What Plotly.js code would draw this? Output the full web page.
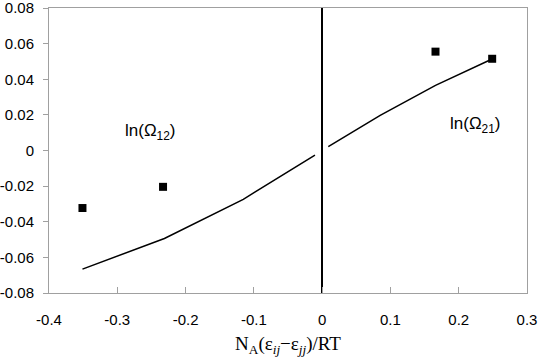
<!DOCTYPE html>
<html>
<head>
<meta charset="utf-8">
<script src="https://cdn.plot.ly/plotly-3.0.1.min.js"></script>
<style>html,body{margin:0;padding:0;background:#fff;}#chart{width:539px;height:361px;}</style>
</head>
<body>
<div id="chart"></div>
<script>
// Measured points (squares)
const pointsX = [-0.351, -0.233, 0.166, 0.249];
const pointsY = [-0.0323, -0.0204, 0.0555, 0.0515];
// Model curve, left branch ln(Omega12)
const leftX = [-0.351, -0.231, -0.1155, -0.0105];
const leftY = [-0.0666, -0.0494, -0.0274, -0.0026];
// Model curve, right branch ln(Omega21)
const rightX = [0.009, 0.085, 0.166, 0.2497];
const rightY = [0.0022, 0.0197, 0.0366, 0.0515];
// Labels
const labelText = ["ln(Ω<sub>12</sub>)", "ln(Ω<sub>21</sub>)"];
const labelX = [-0.251, 0.224];
const labelY = [0.0104, 0.0142];
const xTicks = [-0.4, -0.3, -0.2, -0.1, 0, 0.1, 0.2, 0.3];
const xTickText = ["-0.4", "-0.3", "-0.2", "-0.1", "0", "0.1", "0.2", "0.3"];
const yTicks = [-0.08, -0.06, -0.04, -0.02, 0, 0.02, 0.04, 0.06, 0.08];
const yTickText = ["-0.08", "-0.06", "-0.04", "-0.02", "0", "0.02", "0.04", "0.06", "0.08"];

const traces = [
  {x: leftX, y: leftY, mode: 'lines', line: {color: '#000', width: 1.5}, hoverinfo: 'skip'},
  {x: rightX, y: rightY, mode: 'lines', line: {color: '#000', width: 1.5}, hoverinfo: 'skip'},
  {x: pointsX, y: pointsY, mode: 'markers', marker: {symbol: 'square', size: 8, color: '#000'}, hoverinfo: 'skip'}
];

const axisFont = {family: 'Liberation Sans, Arial, sans-serif', size: 15, color: '#000'};

const layout = {
  width: 539, height: 361,
  margin: {l: 49, r: 12, t: 8, b: 68},
  paper_bgcolor: '#fff', plot_bgcolor: '#fff',
  showlegend: false,
  xaxis: {
    range: [-0.4, 0.3], tickvals: xTicks, ticktext: xTickText,
    showgrid: false, zeroline: true, zerolinecolor: '#000', zerolinewidth: 1.5,
    showline: true, linecolor: '#a0a0a0', linewidth: 1, mirror: true,
    ticks: 'inside', ticklen: 6, tickcolor: '#a0a0a0', tickwidth: 1,
    tickfont: axisFont, ticklabelstandoff: 13, ticklabeloverflow: 'allow',
    title: {text: 'N<sub>A</sub>(ε<sub><i>ij</i></sub>−ε<sub><i>jj</i></sub>)/RT',
            font: {family: 'Liberation Serif, Times New Roman, serif', size: 19, color: '#000'}, standoff: 9}
  },
  yaxis: {
    range: [-0.08, 0.08], tickvals: yTicks, ticktext: yTickText,
    showgrid: false, zeroline: false,
    showline: true, linecolor: '#a0a0a0', linewidth: 1, mirror: true,
    ticks: 'outside', ticklen: 5, tickcolor: '#a0a0a0', tickwidth: 1,
    tickfont: axisFont, ticklabelstandoff: 6, ticklabeloverflow: 'allow'
  },
  annotations: labelText.map((t, i) => ({
    x: labelX[i], y: labelY[i], xref: 'x', yref: 'y', text: t, showarrow: false,
    font: {family: 'Liberation Sans, Arial, sans-serif', size: 17, color: '#000'}
  }))
};

Plotly.newPlot('chart', traces, layout, {displayModeBar: false, staticPlot: true});
</script>
</body>
</html>
